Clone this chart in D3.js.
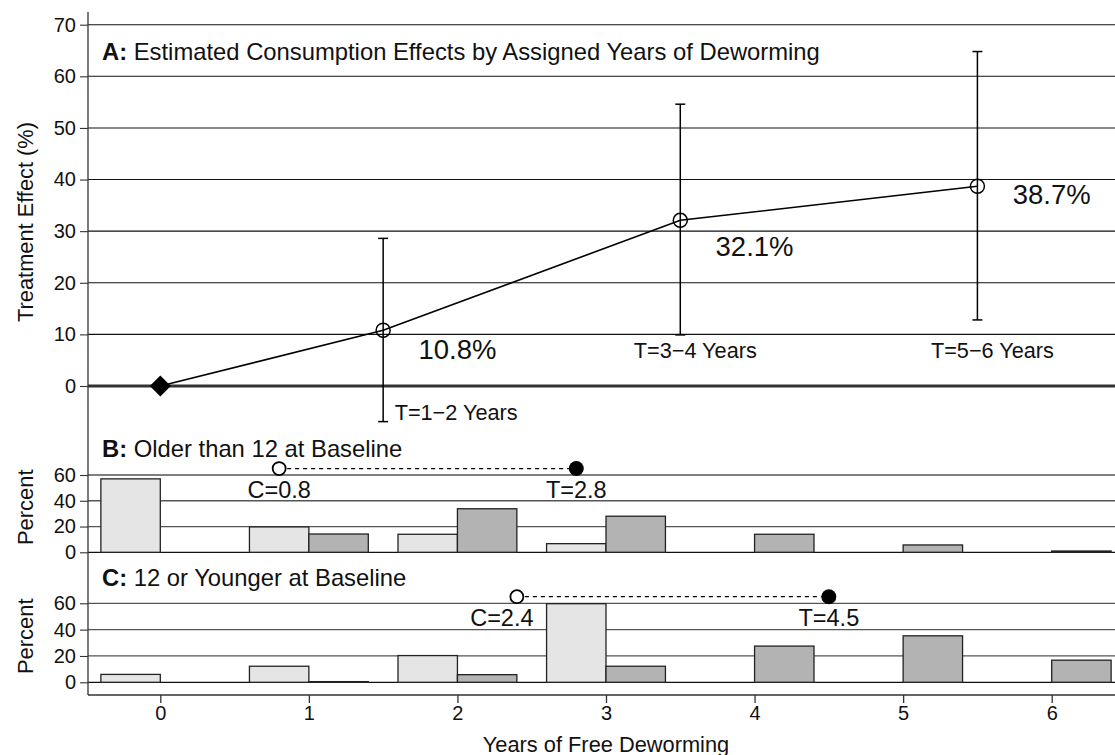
<!DOCTYPE html>
<html>
<head>
<meta charset="utf-8">
<script src="https://cdn.jsdelivr.net/npm/d3@7"></script>
<style>
  html, body { margin: 0; padding: 0; background: #fff; }
  svg { display: block; font-family: "Liberation Sans", Arial, Helvetica, sans-serif; }
</style>
</head>
<body>
<svg id="chart" width="1115" height="755"></svg>
<script>
// ---------------- data ----------------
const years = [0, 1, 2, 3, 4, 5, 6];

// Panel A
const effectYears = [0, 1.5, 3.5, 5.5];
const effects = [0, 10.8, 32.1, 38.7];
const ciLow = [null, -6.9, 9.9, 12.8];
const ciHigh = [null, 28.6, 54.6, 64.8];
const effectLabels = ["", "10.8%", "32.1%", "38.7%"];
const periodLabels = ["", "T=1\u22122 Years", "T=3\u22124 Years", "T=5\u22126 Years"];
const aTicks = [0, 10, 20, 30, 40, 50, 60, 70];

// Panel B: older than 12 at baseline (percent of pupils by years of free deworming)
const olderControl = [57, 19.7, 14, 6.7, 0, 0, 0];
const olderTreat = [0, 14.2, 33.8, 28, 14, 5.7, 1];
const olderMeans = [0.8, 2.8];
const olderMeanLabels = ["C=0.8", "T=2.8"];

// Panel C: 12 or younger at baseline
const youngerControl = [6, 12.2, 20.3, 59.7, 0, 0, 0];
const youngerTreat = [0, 0.5, 5.8, 12.2, 27.5, 35.3, 16.8];
const youngerMeans = [2.4, 4.5];
const youngerMeanLabels = ["C=2.4", "T=4.5"];

const pctTicks = [0, 20, 40, 60];
const meanLevel = 65;

// ---------------- layout ----------------
const W = 1115, H = 755;
const axisX = 88, rightX = 1115;
const svg = d3.select("#chart");
svg.append("rect").attr("width", W).attr("height", H).attr("fill", "#fff");

const x = d3.scaleLinear().domain([0, 6]).range([160.3, 1051.7]);
const yA = d3.scaleLinear().domain([0, 70]).range([386, 24.7]);
const yB = d3.scaleLinear().domain([0, 60]).range([552.3, 475]);
const yC = d3.scaleLinear().domain([0, 60]).range([682.3, 603.3]);

const gridColor = "#3a3a3a";

// ---------- Panel A ----------
const gA = svg.append("g");
gA.selectAll("line.grid").data(aTicks.filter(d => d !== 0)).enter().append("line")
  .attr("x1", axisX).attr("x2", rightX)
  .attr("y1", d => yA(d)).attr("y2", d => yA(d))
  .attr("stroke", "#111").attr("stroke-width", 1.1);
gA.append("line").attr("x1", axisX).attr("x2", rightX)
  .attr("y1", yA(0)).attr("y2", yA(0))
  .attr("stroke", "#333").attr("stroke-width", 3);

function leftAxis(g, scale, ticks, fs) {
  const ax = g.append("g").attr("transform", `translate(${axisX},0)`)
    .call(d3.axisLeft(scale).tickValues(ticks).tickSize(8).tickPadding(4).tickFormat(d3.format("d")));
  ax.select(".domain").remove();
  ax.selectAll(".tick line").attr("stroke", "#333").attr("stroke-width", 1.1);
  ax.selectAll(".tick text").attr("font-size", fs).attr("fill", "#111")
    .attr("font-family", "Liberation Sans, Arial, sans-serif");
}
leftAxis(gA, yA, aTicks, 20);

// connecting line
const pts = effectYears.map((t, i) => [x(t), yA(effects[i])]);
gA.append("path").attr("d", d3.line()(pts)).attr("fill", "none")
  .attr("stroke", "#000").attr("stroke-width", 1.6);

// error bars
effectYears.forEach((t, i) => {
  if (ciLow[i] === null) return;
  const cx = x(t);
  gA.append("line").attr("x1", cx).attr("x2", cx)
    .attr("y1", yA(ciLow[i])).attr("y2", yA(ciHigh[i]))
    .attr("stroke", "#000").attr("stroke-width", 1.5);
  [ciLow[i], ciHigh[i]].forEach(v => {
    gA.append("line").attr("x1", cx - 5).attr("x2", cx + 5)
      .attr("y1", yA(v)).attr("y2", yA(v))
      .attr("stroke", "#000").attr("stroke-width", 1.5);
  });
});

// points
effectYears.forEach((t, i) => {
  const cx = x(t), cy = yA(effects[i]);
  if (i === 0) {
    const s = 10.5;
    gA.append("path").attr("d", `M${cx},${cy - s}L${cx + s},${cy}L${cx},${cy + s}L${cx - s},${cy}Z`)
      .attr("fill", "#000");
  } else {
    gA.append("circle").attr("cx", cx).attr("cy", cy).attr("r", 7)
      .attr("fill", "none").attr("stroke", "#000").attr("stroke-width", 1.5);
  }
});

// effect labels (anchored half a year to the right of each point)
const effLabelDY = [0, 29, 35.5, 18];
effectYears.forEach((t, i) => {
  if (!effectLabels[i]) return;
  gA.append("text").attr("x", x(t + 0.5)).attr("y", yA(effects[i]) + effLabelDY[i])
    .attr("text-anchor", "middle").attr("font-size", 27.5).attr("fill", "#111")
    .text(effectLabels[i]);
});
// period labels
gA.append("text").attr("x", x(effectYears[1]) + 11.5).attr("y", 419.5)
  .attr("font-size", 21.7).attr("fill", "#111").text(periodLabels[1]);
[2, 3].forEach(i => {
  gA.append("text").attr("x", x(effectYears[i]) + 15).attr("y", 357.5)
    .attr("text-anchor", "middle").attr("font-size", 21.7).attr("fill", "#111")
    .text(periodLabels[i]);
});

// panel A title
const tA = gA.append("text").attr("x", 102).attr("y", 59.5).attr("font-size", 23.8).attr("fill", "#111");
tA.append("tspan").attr("font-weight", "bold").text("A:");
tA.append("tspan").text(" Estimated Consumption Effects by Assigned Years of Deworming");

// y label A
svg.append("text").attr("transform", `translate(33,222) rotate(-90)`)
  .attr("text-anchor", "middle").attr("font-size", 21.8).attr("fill", "#111")
  .text("Treatment Effect (%)");

// ---------- Histogram panels ----------
function histPanel(yS, control, treat, means, meanLabels, title, labelOffsets) {
  const g = svg.append("g");
  g.selectAll("line.grid").data(pctTicks).enter().append("line")
    .attr("x1", axisX).attr("x2", rightX)
    .attr("y1", d => yS(d)).attr("y2", d => yS(d))
    .attr("stroke", d => d === 0 ? "#111" : "#555").attr("stroke-width", 1.3);
  leftAxis(g, yS, pctTicks, 20);

  const bw = x(0.4) - x(0);
  g.selectAll("rect.ctl").data(years.map((t, i) => ({ t, v: control[i] })).filter(d => d.v > 0))
    .enter().append("rect")
    .attr("x", d => x(d.t) - bw).attr("width", bw)
    .attr("y", d => yS(d.v)).attr("height", d => yS(0) - yS(d.v))
    .attr("fill", "#e5e5e5").attr("stroke", "#222").attr("stroke-width", 1.3);
  g.selectAll("rect.trt").data(years.map((t, i) => ({ t, v: treat[i] })).filter(d => d.v > 0))
    .enter().append("rect")
    .attr("x", d => x(d.t)).attr("width", bw)
    .attr("y", d => yS(d.v)).attr("height", d => Math.max(yS(0) - yS(d.v), 0.5))
    .attr("fill", "#b3b3b3").attr("stroke", "#222").attr("stroke-width", 1.3);

  const my = yS(meanLevel);
  g.append("line").attr("x1", x(means[0])).attr("x2", x(means[1]))
    .attr("y1", my).attr("y2", my)
    .attr("stroke", "#000").attr("stroke-width", 1.3).attr("stroke-dasharray", "4,4");
  g.append("circle").attr("cx", x(means[0])).attr("cy", my).attr("r", 6.5)
    .attr("fill", "#fff").attr("stroke", "#000").attr("stroke-width", 1.8);
  g.append("circle").attr("cx", x(means[1])).attr("cy", my).attr("r", 7.5)
    .attr("fill", "#000");

  meanLabels.forEach((lab, i) => {
    g.append("text").attr("x", x(means[i]) + labelOffsets[i]).attr("y", my + 29)
      .attr("text-anchor", "middle").attr("font-size", 23.5).attr("fill", "#111")
      .text(lab);
  });

  const tt = g.append("text").attr("x", 102).attr("y", title.y).attr("font-size", 23.8).attr("fill", "#111");
  tt.append("tspan").attr("font-weight", "bold").text(title.tag);
  tt.append("tspan").text(" " + title.text);

  svg.append("text").attr("transform", `translate(33,${yS(35)}) rotate(-90)`)
    .attr("text-anchor", "middle").attr("font-size", 22).attr("fill", "#111")
    .text("Percent");
}
histPanel(yB, olderControl, olderTreat, olderMeans, olderMeanLabels,
  { tag: "B:", text: "Older than 12 at Baseline", y: 457 }, [0, 0]);
histPanel(yC, youngerControl, youngerTreat, youngerMeans, youngerMeanLabels,
  { tag: "C:", text: "12 or Younger at Baseline", y: 586 }, [-15, 0]);

// ---------- axes lines and x-axis ----------
svg.append("line").attr("x1", axisX).attr("x2", axisX).attr("y1", 12).attr("y2", 695)
  .attr("stroke", "#333").attr("stroke-width", 1.3);
const xa = svg.append("g").attr("transform", "translate(0,695)")
  .call(d3.axisBottom(x).tickValues(years).tickSize(8).tickPadding(3).tickFormat(d3.format("d")));
xa.select(".domain").remove();
xa.selectAll(".tick line").attr("stroke", "#333").attr("stroke-width", 1.3);
xa.selectAll(".tick text").attr("font-size", 20).attr("fill", "#111")
  .attr("font-family", "Liberation Sans, Arial, sans-serif");
svg.append("line").attr("x1", axisX).attr("x2", rightX).attr("y1", 695).attr("y2", 695)
  .attr("stroke", "#333").attr("stroke-width", 1.3);

svg.append("text").attr("x", x(3)).attr("y", 751.5).attr("text-anchor", "middle")
  .attr("font-size", 21.8).attr("fill", "#111").text("Years of Free Deworming");
</script>
</body>
</html>
